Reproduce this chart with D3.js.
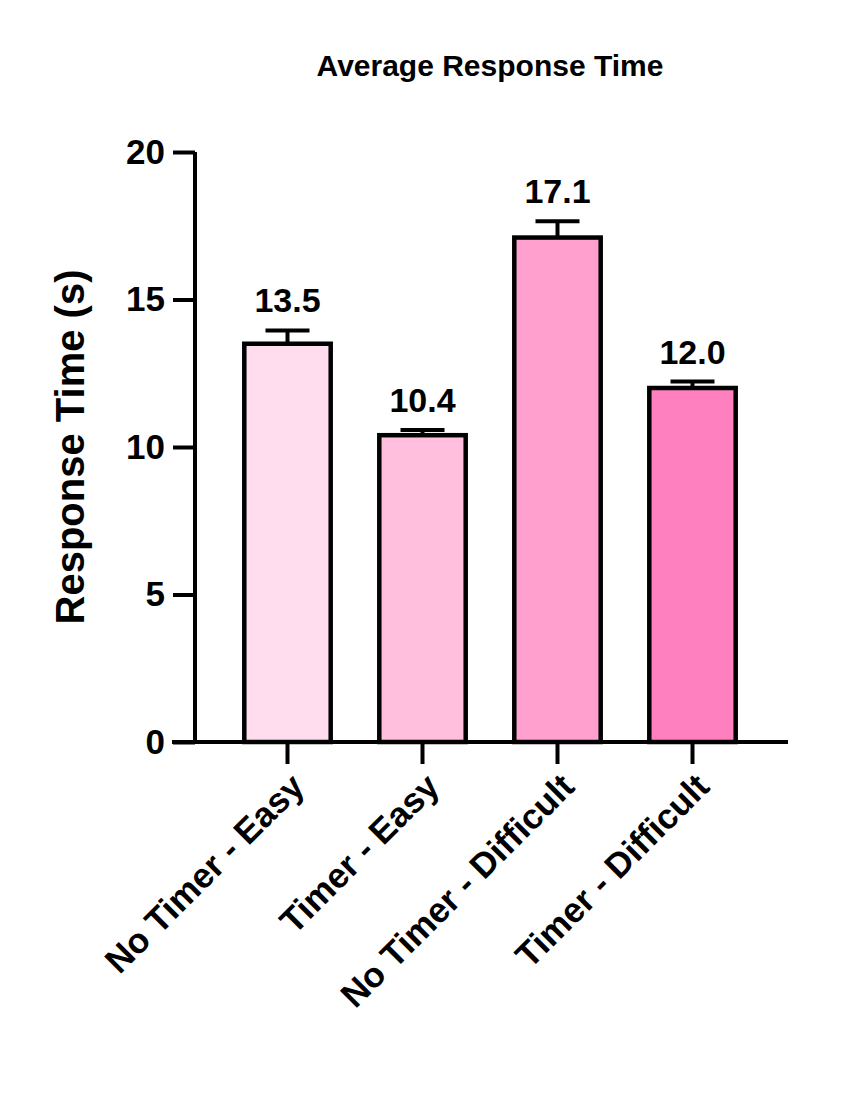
<!DOCTYPE html>
<html><head><meta charset="utf-8">
<script src="https://cdn.jsdelivr.net/npm/d3@7"></script>
<style>body{margin:0;background:#fff}text{font-family:Arial,"Liberation Sans",sans-serif;font-weight:bold}</style>
</head><body><svg id="c" width="848" height="1105"></svg>
<script>
const categories=["No Timer - Easy","Timer - Easy","No Timer - Difficult","Timer - Difficult"];
const values=[13.5,10.4,17.1,12.0];
const errors=[0.45,0.18,0.55,0.22];
const colors=["#FFDDEE","#FFBFDD","#FFA0CE","#FF80BF"];
const yTicks=[0,5,10,15,20];

const svg=d3.select("#c");
const x=d3.scaleBand().domain(categories).range([220,760]).paddingInner(0.36).paddingOuter(0.18);
const y=d3.scaleLinear().domain([0,20]).range([742,152]);

svg.append("text").attr("x",490).attr("y",76).attr("text-anchor","middle").attr("font-size",30).text("Average Response Time");

const ya=svg.append("g").attr("transform","translate(195,0)")
 .call(d3.axisLeft(y).tickValues(yTicks).tickSize(22).tickPadding(8));
ya.select(".domain").attr("stroke-width",4).attr("d","M0,742V152");
ya.selectAll(".tick line").attr("stroke-width",4);
ya.selectAll(".tick text").attr("font-size",35).attr("fill","#000");

const xa=svg.append("g").attr("transform","translate(0,742)")
 .call(d3.axisBottom(x).tickSize(22).tickSizeOuter(0).tickPadding(8));
xa.select(".domain").attr("stroke-width",4).attr("d","M172,0H788");
xa.selectAll(".tick line").attr("stroke-width",4);
xa.selectAll(".tick text").attr("font-size",35).attr("fill","#000")
 .attr("text-anchor","end").attr("dy","0.35em")
 .attr("transform","translate(10,38) rotate(-45)").attr("x",0).attr("y",0);

svg.append("text").attr("transform","translate(84,447) rotate(-90)").attr("text-anchor","middle").attr("font-size",40).text("Response Time (s)");

const g=svg.append("g");
categories.forEach((c,i)=>{
 const cx=x(c)+x.bandwidth()/2;
 g.append("line").attr("x1",cx).attr("x2",cx).attr("y1",y(values[i])).attr("y2",y(values[i]+errors[i])).attr("stroke","#000").attr("stroke-width",4);
 g.append("line").attr("x1",cx-22).attr("x2",cx+22).attr("y1",y(values[i]+errors[i])).attr("y2",y(values[i]+errors[i])).attr("stroke","#000").attr("stroke-width",4);
 g.append("rect").attr("x",x(c)).attr("width",x.bandwidth()).attr("y",y(values[i])).attr("height",y(0)-y(values[i]))
  .attr("fill",colors[i]).attr("stroke","#000").attr("stroke-width",4.5);
 g.append("text").attr("x",cx).attr("y",y(values[i]+errors[i])-18).attr("text-anchor","middle").attr("font-size",34).text(values[i].toFixed(1));
});
</script></body></html>
